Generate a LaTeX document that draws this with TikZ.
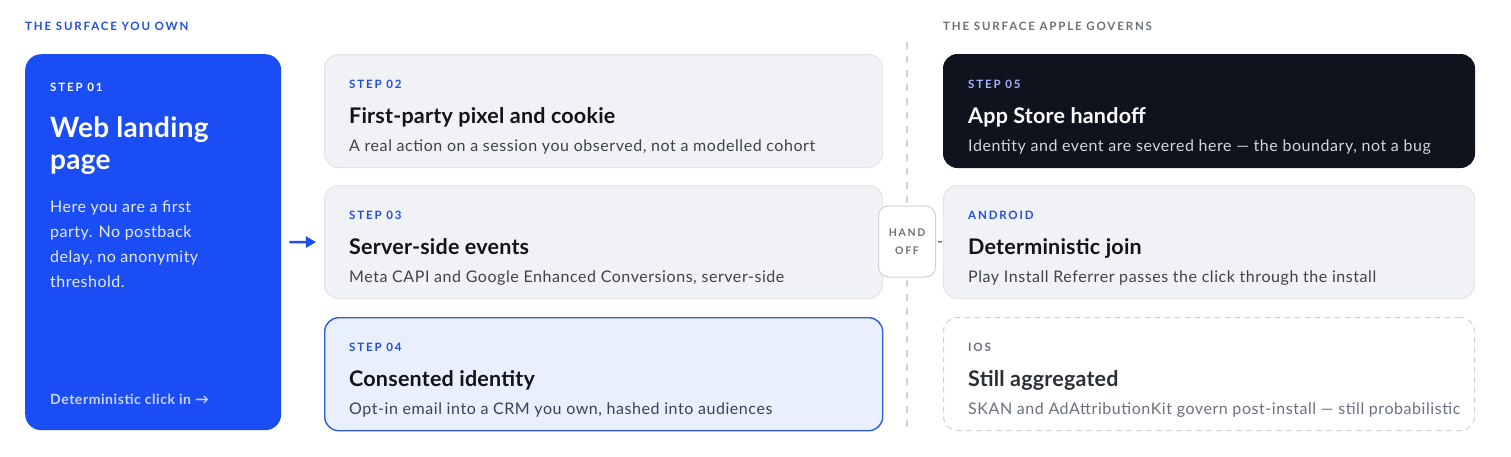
\documentclass[tikz,border=0pt]{standalone}
\usepackage{fontspec}
\setmainfont{Lato}
\newfontfamily\capsfont[LetterSpace=16]{Lato}
\newfontfamily\dscfont[LetterSpace=3.5]{Lato}
\newfontfamily\bodyfont[LetterSpace=3]{Lato}
\newfontfamily\ttlfont[LetterSpace=1]{Lato}
\newfontfamily\clickfont[LetterSpace=4]{Lato}
\usetikzlibrary{arrows.meta,calc}
\definecolor{brand}{HTML}{1B4DF5}
\definecolor{lblblue}{HTML}{1F4FE0}
\definecolor{cardfill}{HTML}{F1F2F5}
\definecolor{cardline}{HTML}{E2E4E9}
\definecolor{bluefill}{HTML}{E9EFFD}
\definecolor{blueline}{HTML}{2F5BE0}
\definecolor{darkfill}{HTML}{0E131E}
\definecolor{ink}{HTML}{111318}
\definecolor{desc}{HTML}{3D424C}
\definecolor{greyhead}{HTML}{6B7079}
\definecolor{divider}{HTML}{CFD2D8}
\definecolor{indigo}{HTML}{A5B4FC}
\definecolor{lightdesc}{HTML}{D1D5DB}
\definecolor{paleblue}{HTML}{C7D2FE}
\definecolor{iosink}{HTML}{2B2F36}
\definecolor{iosdesc}{HTML}{6B7080}
\begin{document}
\begin{tikzpicture}[x=1pt,y=-1pt,
  card/.style={draw=cardline, fill=cardfill, line width=1pt, rounded corners=14pt, anchor=north west, minimum width=558pt, minimum height=113pt, inner sep=0pt},
  lbl/.style={font=\capsfont\bfseries\fontsize{11.5}{14}\selectfont, anchor=base west, inner sep=0pt},
  ttl/.style={font=\ttlfont\bfseries\fontsize{21.5}{25}\selectfont, anchor=base west, inner sep=0pt, text=ink},
  dsc/.style={font=\dscfont\fontsize{16}{19}\selectfont, anchor=base west, inner sep=0pt, text=desc},
  body/.style={font=\bodyfont\fontsize{16}{24.7}\selectfont, anchor=base west, inner sep=0pt, align=left, text=white!88!brand}
]
\useasboundingbox (0,0) rectangle (1511,456);
% headers
\node[lbl, text=lblblue] (hown) at (25,30) {THE SURFACE YOU OWN};
\node[lbl, text=greyhead] (happle) at (943,30) {THE SURFACE APPLE GOVERNS};
% divider
\coordinate (dtop) at (907,42);
\coordinate (dbot) at (907,428);
\draw[divider, line width=1.2pt, dash pattern=on 7pt off 7pt] (dtop) -- (dbot);
% step 01
\node[draw=none, fill=brand, rounded corners=16pt, anchor=north west, minimum width=256pt, minimum height=376pt, inner sep=0pt] (s01) at (25,54) {};
\node[lbl, text=white] (s01l) at (50,91) {STEP 01};
\node[font=\ttlfont\bfseries\fontsize{28}{32}\selectfont, anchor=base west, inner sep=0pt, align=left, text=white] (s01t) at (50,169) {Web landing\\page};
\node[body] (s01b) at (50,287) {Here you are a first\\party. No postback\\delay, no anonymity\\threshold.};
\node[font=\clickfont\bfseries\fontsize{14}{16}\selectfont, anchor=base west, inner sep=0pt, text=paleblue] (s01c) at (50,404) {Deterministic click in \symbol{"2192}};
% step 02
\node[card] (s02) at (324,54) {};
\node[lbl, text=lblblue] (s02l) at (349,88) {STEP 02};
\node[ttl] (s02t) at (349,123) {First-party pixel and cookie};
\node[dsc] (s02d) at (349,151) {A real action on a session you observed, not a modelled cohort};
% step 03
\node[card] (s03) at (324,185) {};
\node[lbl, text=lblblue] (s03l) at (349,219) {STEP 03};
\node[ttl] (s03t) at (349,254) {Server-side events};
\node[dsc] (s03d) at (349,282) {Meta CAPI and Google Enhanced Conversions, server-side};
% step 04
\node[card, draw=blueline, fill=bluefill, line width=1.4pt] (s04) at (324,317) {};
\node[lbl, text=lblblue] (s04l) at (349,351) {STEP 04};
\node[ttl] (s04t) at (349,386) {Consented identity};
\node[dsc] (s04d) at (349,414) {Opt-in email into a CRM you own, hashed into audiences};
% arrow
\draw[brand, line width=2.5pt, -{Triangle[length=10pt,width=11pt]}, shorten <=8pt, shorten >=8pt] (s01.east) -- (s03.west);
% step 05
\node[card, draw=darkfill, fill=darkfill, minimum width=531pt] (s05) at (943,54) {};
\node[lbl, text=indigo] (s05l) at (968,88) {STEP 05};
\node[ttl, text=white] (s05t) at (968,123) {App Store handoff};
\node[dsc, text=lightdesc] (s05d) at (968,151) {Identity and event are severed here — the boundary, not a bug};
% android
\node[card, minimum width=531pt] (and) at (943,185) {};
\node[lbl, text=lblblue] (andl) at (968,219) {ANDROID};
\node[ttl] (andt) at (968,254) {Deterministic join};
\node[dsc] (andd) at (968,282) {Play Install Referrer passes the click through the install};
% ios
\node[card, minimum width=531pt, fill=white, draw=divider, dash pattern=on 6pt off 4pt] (ios) at (943,317) {};
\node[lbl, text=iosdesc] (iosl) at (968,351) {IOS};
\node[ttl, text=iosink] (iost) at (968,386) {Still aggregated};
\node[dsc, text=iosdesc] (iosd) at (968,414) {SKAN and AdAttributionKit govern post-install — still probabilistic};
% handoff
\node[draw=divider, fill=white, line width=1pt, rounded corners=10pt, minimum width=57pt, minimum height=71pt, inner sep=0pt] (hand) at (907,241.5) {};
\node[font=\capsfont\bfseries\fontsize{10.5}{18}\selectfont, text=greyhead, align=center, inner sep=0pt, anchor=base] (handt) at (907,254) {HAND\\OFF};
\draw[greyhead, line width=1.5pt, shorten <=2pt, shorten >=1pt] (hand.east) -- (and.west);
\end{tikzpicture}
\end{document}
